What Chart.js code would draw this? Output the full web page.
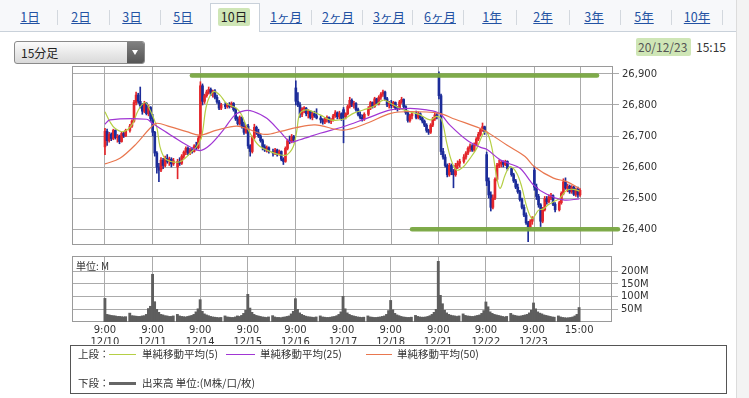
<!DOCTYPE html>
<html><head><meta charset="utf-8">
<script src="https://cdn.jsdelivr.net/npm/chart.js@4.4.1/dist/chart.umd.min.js"></script>
<style>
body{margin:0;width:749px;height:398px;position:relative;overflow:hidden;background:#fff;font-family:"Noto Sans CJK JP","DejaVu Sans",sans-serif;}
#tabbar{position:absolute;left:0;top:0;width:736px;height:31px;background:#f7f8fa;border-bottom:1px solid #c9d1da;}
.tab{position:absolute;top:9px;font-size:12.5px;line-height:16px;color:#2352a3;text-decoration:underline;transform:translateX(-50%);white-space:nowrap;}
.sep{position:absolute;top:10px;width:1px;height:15px;background:#d3d8de;}
#sel{position:absolute;left:210px;top:3px;width:50px;height:29px;background:#fff;border:1px solid #c9d1da;border-bottom:none;box-sizing:border-box;}
#selhl{position:absolute;left:218px;top:8px;width:32px;height:18px;background:#cfe6b6;border-radius:2px;}
#rightstrip{position:absolute;left:736px;top:0;width:13px;height:398px;background:#f3f3f3;border-left:1px solid #dcdcdc;}
#dd{position:absolute;left:14px;top:41px;width:131px;height:23px;box-sizing:border-box;border:1px solid #8a8a8a;border-radius:3px;background:linear-gradient(#fbfbfb,#d9d9d9);}
#dd span{position:absolute;left:6px;top:2px;font-size:12px;color:#222;}
#ddbtn{position:absolute;right:0;top:0;width:17px;height:21px;background:linear-gradient(#808080,#555);border-radius:0 2px 2px 0;}
#ddbtn:after{content:'';position:absolute;left:5px;top:8px;border-left:3.5px solid transparent;border-right:3.5px solid transparent;border-top:5px solid #fff;}
#datehl{position:absolute;left:636px;top:38px;width:55px;height:18px;background:#cfe6b6;border-radius:2px;}
.txt{position:absolute;white-space:nowrap;}
#legend{position:absolute;left:70px;top:345px;width:657px;height:49px;border:1px solid #555;box-sizing:border-box;}
.lg{position:absolute;font-size:10.5px;line-height:14px;color:#333;white-space:nowrap;}
.ln{position:absolute;height:1px;}
canvas{position:absolute;left:0;top:0;}
</style></head><body>
<div id="tabbar"></div>
<div id="sel"></div><div id="selhl"></div>
<span class="tab" style="left:30px">1日</span>
<span class="tab" style="left:81px">2日</span>
<span class="tab" style="left:132px">3日</span>
<span class="tab" style="left:183px">5日</span>
<span class="tab" style="left:234px;color:#222;text-decoration:none">10日</span>
<span class="tab" style="left:286px">1ヶ月</span>
<span class="tab" style="left:338px">2ヶ月</span>
<span class="tab" style="left:389px">3ヶ月</span>
<span class="tab" style="left:440px">6ヶ月</span>
<span class="tab" style="left:492px">1年</span>
<span class="tab" style="left:543px">2年</span>
<span class="tab" style="left:594px">3年</span>
<span class="tab" style="left:644px">5年</span>
<span class="tab" style="left:697px">10年</span>
<div class="sep" style="left:57px"></div><div class="sep" style="left:109px"></div><div class="sep" style="left:160px"></div>
<div class="sep" style="left:311px"></div><div class="sep" style="left:362px"></div><div class="sep" style="left:412px"></div>
<div class="sep" style="left:463px"></div><div class="sep" style="left:516px"></div><div class="sep" style="left:569px"></div>
<div class="sep" style="left:620px"></div><div class="sep" style="left:671px"></div><div class="sep" style="left:722px"></div>
<div id="rightstrip"></div>
<div id="dd"><span>15分足</span><div id="ddbtn"></div></div>
<div id="datehl"></div>
<span class="txt" style="left:638px;top:38px;font-size:12px;color:#555">20/12/23</span>
<span class="txt" style="left:696px;top:38px;font-size:12px;color:#333">15:15</span>
<canvas id="price" width="749" height="398"></canvas>
<canvas id="vol" width="749" height="398"></canvas>
<span class="txt" style="left:76px;top:258px;font-size:10px;color:#333">単位: M</span>
<div id="legend"></div>
<span class="lg" style="left:78px;top:347px">上段：</span>
<div class="ln" style="left:109px;top:354px;width:27px;background:#b5cf45"></div>
<span class="lg" style="left:142px;top:347px">単純移動平均(5)</span>
<div class="ln" style="left:226px;top:354px;width:29px;background:#a136d4"></div>
<span class="lg" style="left:260px;top:347px">単純移動平均(25)</span>
<div class="ln" style="left:366px;top:354px;width:26px;background:#e9774f"></div>
<span class="lg" style="left:397px;top:347px">単純移動平均(50)</span>
<span class="lg" style="left:78px;top:376px">下段：</span>
<div class="ln" style="left:109px;top:382px;width:27px;height:3px;background:#666"></div>
<span class="lg" style="left:142px;top:376px">出来高 単位:(M株/口/枚)</span>
<script>
// ---------- data ----------
const days = ['12/10','12/11','12/14','12/15','12/16','12/17','12/18','12/21','12/22','12/23'];
const sessionTimes = ['9:00','9:15','9:30','9:45','10:00','10:15','10:30','10:45','11:00','11:15','11:30',
  '12:30','12:45','13:00','13:15','13:30','13:45','14:00','14:15','14:30','14:45','15:00'];
const lastTickTime = '15:00';

// [open, high, low, close] per 15-minute bar
const ohlc1210 = [[26665,26725,26640,26715],[26715,26722,26670,26685],[26685,26712,26680,26705],[26705,26710,26685,26692],[26692,26722,26688,26718],[26718,26720,26690,26695],[26695,26705,26680,26700],[26700,26703,26675,26682],[26682,26712,26680,26708],[26708,26715,26695,26700],[26700,26722,26698,26718],
  [26718,26738,26712,26732],[26732,26752,26728,26748],[26748,26815,26745,26808],[26808,26842,26800,26832],[26832,26838,26805,26812],[26812,26858,26790,26798],[26798,26805,26770,26780],[26780,26812,26775,26805],[26805,26808,26768,26772],[26772,26800,26765,26792],[26792,26795,26748,26756]];
const ohlc1211 = [[26756,26770,26700,26712],[26712,26715,26635,26645],[26645,26650,26580,26600],[26600,26612,26553,26590],[26590,26630,26585,26622],[26622,26628,26595,26605],[26605,26635,26600,26628],[26628,26640,26612,26618],[26618,26632,26605,26625],[26625,26630,26600,26610],[26610,26628,26605,26620],
  [26600,26625,26562,26618],[26618,26630,26605,26612],[26612,26640,26608,26635],[26635,26652,26628,26648],[26648,26665,26640,26660],[26660,26665,26638,26645],[26645,26660,26640,26655],[26655,26662,26645,26650],[26650,26672,26648,26668],[26668,26680,26655,26662],[26662,26700,26658,26692]];
const ohlc1214 = [[26695,26875,26690,26862],[26862,26868,26800,26812],[26812,26835,26805,26830],[26830,26848,26825,26842],[26842,26858,26835,26850],[26850,26855,26830,26838],[26838,26848,26825,26845],[26845,26850,26820,26825],[26825,26832,26805,26810],[26810,26815,26785,26790],[26790,26805,26785,26800],
  [26800,26808,26788,26795],[26795,26805,26790,26802],[26802,26808,26790,26795],[26795,26810,26792,26805],[26805,26808,26780,26785],[26785,26790,26750,26755],[26755,26762,26735,26740],[26740,26765,26735,26760],[26760,26762,26725,26730],[26730,26745,26705,26712],[26712,26735,26708,26732]];
const ohlc1215 = [[26732,26738,26660,26668],[26668,26672,26635,26650],[26650,26700,26645,26695],[26695,26738,26690,26728],[26728,26732,26705,26710],[26710,26722,26695,26700],[26700,26705,26680,26685],[26685,26690,26655,26665],[26665,26672,26650,26655],[26655,26668,26648,26662],[26662,26665,26645,26650],
  [26650,26658,26635,26645],[26645,26660,26640,26655],[26655,26658,26635,26642],[26642,26655,26638,26650],[26650,26652,26620,26625],[26625,26630,26608,26618],[26618,26665,26615,26660],[26660,26690,26655,26685],[26685,26700,26675,26682],[26682,26705,26678,26698],[26698,26702,26680,26687]];
const ohlc1216 = [[26855,26878,26800,26812],[26812,26840,26795,26800],[26800,26808,26760,26770],[26770,26792,26762,26788],[26788,26795,26775,26790],[26790,26792,26765,26772],[26772,26785,26758,26780],[26780,26782,26755,26760],[26760,26778,26752,26772],[26772,26780,26760,26765],[26765,26788,26755,26758],
  [26758,26765,26742,26752],[26752,26756,26738,26745],[26745,26760,26740,26755],[26755,26765,26745,26760],[26760,26762,26742,26748],[26748,26756,26740,26752],[26752,26770,26748,26765],[26765,26782,26760,26775],[26775,26778,26755,26762],[26762,26780,26755,26772],[26772,26775,26750,26757]];
const ohlc1217 = [[26785,26792,26678,26762],[26762,26775,26755,26772],[26772,26800,26768,26795],[26795,26825,26790,26815],[26815,26820,26795,26800],[26800,26812,26790,26805],[26805,26808,26780,26785],[26785,26790,26765,26770],[26770,26778,26755,26760],[26760,26768,26748,26755],[26755,26775,26750,26770],
  [26770,26795,26765,26790],[26790,26812,26785,26808],[26808,26810,26790,26795],[26795,26825,26792,26820],[26820,26822,26800,26805],[26805,26830,26800,26825],[26825,26840,26818,26835],[26835,26848,26828,26842],[26842,26845,26815,26820],[26820,26825,26795,26800],[26800,26812,26790,26806]];
const ohlc1218 = [[26806,26815,26790,26798],[26798,26812,26792,26808],[26808,26810,26785,26790],[26790,26795,26780,26788],[26788,26815,26785,26810],[26810,26825,26805,26818],[26818,26820,26790,26795],[26795,26798,26770,26775],[26775,26780,26745,26750],[26750,26770,26745,26765],[26765,26778,26755,26772],
  [26772,26780,26755,26760],[26760,26778,26755,26772],[26772,26775,26752,26758],[26758,26762,26742,26748],[26748,26752,26730,26735],[26735,26740,26712,26718],[26718,26722,26705,26712],[26712,26740,26708,26735],[26735,26760,26730,26755],[26755,26775,26750,26768],[26768,26772,26755,26763]];
const ohlc1221 = [[26895,26907,26820,26830],[26830,26835,26640,26650],[26650,26660,26625,26632],[26632,26640,26600,26605],[26605,26610,26568,26575],[26575,26612,26570,26605],[26605,26610,26575,26585],[26585,26592,26533,26575],[26575,26612,26570,26605],[26605,26620,26595,26612],[26612,26625,26600,26618],
  [26618,26640,26612,26632],[26632,26650,26625,26645],[26645,26665,26640,26660],[26660,26675,26650,26668],[26668,26672,26650,26655],[26655,26678,26650,26672],[26672,26695,26668,26690],[26690,26712,26685,26705],[26705,26725,26700,26720],[26720,26742,26715,26730],[26730,26732,26705,26714]];
const ohlc1222 = [[26640,26648,26540,26555],[26555,26565,26500,26510],[26510,26520,26458,26470],[26470,26510,26465,26500],[26500,26565,26495,26560],[26560,26612,26555,26605],[26605,26622,26598,26610],[26610,26620,26600,26615],[26615,26620,26600,26608],[26608,26622,26604,26618],[26618,26620,26590,26595],
  [26595,26598,26570,26575],[26575,26580,26550,26555],[26555,26560,26530,26535],[26535,26545,26515,26520],[26520,26525,26490,26495],[26495,26500,26465,26470],[26470,26478,26440,26445],[26445,26452,26415,26420],[26420,26425,26359,26405],[26405,26430,26398,26425],[26425,26440,26415,26436]];
const ohlc1223 = [[26590,26602,26525,26535],[26535,26545,26495,26505],[26505,26512,26470,26478],[26478,26482,26408,26425],[26425,26470,26420,26462],[26462,26505,26458,26498],[26498,26505,26480,26488],[26488,26510,26484,26502],[26502,26515,26495,26508],[26508,26510,26475,26480],[26480,26485,26455,26462],
  [26462,26490,26458,26485],[26485,26520,26480,26515],[26515,26562,26510,26552],[26552,26565,26528,26532],[26532,26545,26520,26538],[26538,26542,26515,26520],[26520,26540,26515,26535],[26535,26538,26508,26512],[26512,26532,26505,26528],[26528,26535,26502,26510],[26510,26530,26505,26525]];

// volume (millions) per bar
const vol1210 = [93,30,28,26,25,24,22,22,21,20,21,35,25,24,23,22,22,24,25,30,53,62];
const vol1211 = [188,80,50,38,30,28,25,24,22,22,24,30,24,22,21,20,22,24,26,30,40,52];
const vol1214 = [88,42,32,28,25,22,20,19,18,17,18,24,20,19,18,18,20,24,22,26,34,46];
const vol1215 = [109,55,38,30,26,24,22,20,19,18,20,25,20,18,18,17,19,20,22,24,32,42];
const vol1216 = [92,50,36,30,26,23,21,20,19,18,20,24,20,19,18,18,19,21,22,25,30,40];
const vol1217 = [101,52,36,30,26,24,22,20,19,18,19,24,20,19,18,18,19,20,22,24,30,45];
const vol1218 = [85,48,34,28,25,22,20,19,18,18,19,26,22,20,19,19,20,22,25,30,38,50];
const vol1221 = [239,105,72,46,36,30,27,25,24,22,24,32,26,24,23,22,22,24,26,28,34,45];
const vol1222 = [79,60,40,34,30,28,26,24,22,20,22,34,28,26,24,23,24,26,28,30,36,46];
const vol1223 = [75,52,40,35,32,28,26,24,22,20,19,24,20,18,17,16,17,18,20,24,30,57];

// moving averages (position in bar slots, value)
const ma5Slot = [0,2.4,4.8,8.8,12.9,16.1,19.3,21.7,24.9,26.5,28.9,32.2,36.2,38.6,41.8,44.2,46.6,49.0,52.2,55.4,58.6,63.5,65.9,68.3,71.5,74.7,79.6,84.4,87.6,90.8,92.4,94.0,97.3,103.7,108.5,114.9,119.7,124.5,129.4,134.2,137.8,142.2,147.1,151.9,156.7,159.9,162.3,164.8,167.2,169.6,172.8,176.0,179.2,182.4,184.0,186.4,188.8,190.5,192.9,195.3,198.5,200.9,203.3,205.7,207.3,208.9,211.3,213.7,216.9,219.4,222.6,225.8,228.7];
const ma5 = [26778,26746,26725,26714,26735,26784,26808,26784,26730,26666,26628,26617,26617,26628,26650,26666,26698,26800,26843,26832,26805,26789,26768,26730,26692,26666,26650,26639,26639,26666,26714,26773,26784,26768,26752,26754,26773,26784,26795,26816,26805,26789,26778,26768,26752,26763,26752,26676,26617,26590,26601,26628,26660,26709,26714,26666,26569,26531,26574,26601,26580,26536,26472,26434,26444,26460,26465,26478,26490,26500,26525,26528,26522];
const ma25Slot = [0,2.4,20.1,22.5,26.5,32.9,39.4,45.8,50.6,57.0,62.7,67.5,71.5,78.0,84.4,89.2,94.0,103.7,114.9,126.2,137.8,147.1,155.1,161.2,166.3,174.4,180.8,184.0,190.5,194.5,200.1,206.9,213.0,221.0,228.7];
const ma25 = [26738,26752,26754,26743,26725,26698,26671,26653,26671,26719,26768,26782,26779,26757,26714,26682,26688,26709,26730,26757,26784,26789,26784,26773,26735,26687,26664,26657,26623,26612,26596,26540,26512,26494,26497];
const ma50Slot = [0,7.2,15.3,21.7,24.9,31.3,39.4,45.8,53.9,63.5,69.1,77.1,85.2,92.1,101.3,114.9,126.2,137.8,147.1,161.2,168.8,180.8,184.0,193.7,202.5,207.0,216.2,222.6,228.7];
const ma50 = [26610,26628,26676,26725,26741,26730,26714,26703,26719,26732,26722,26705,26716,26727,26736,26719,26741,26773,26779,26773,26754,26725,26714,26671,26634,26601,26564,26553,26531];

// hand-drawn support / resistance marks (slot range, level)
const resistSlots = [41.9, 237.2]; const resistLevel = 26895;
const supportSlots = [148, 247.3]; const supportLevel = 26399;

const priceTicks = [26400,26500,26600,26700,26800,26900];
const volTicks = [50,100,150,200];

// ---------- build ----------
const dailyOhlc = [ohlc1210,ohlc1211,ohlc1214,ohlc1215,ohlc1216,ohlc1217,ohlc1218,ohlc1221,ohlc1222,ohlc1223];
const dailyVol = [vol1210,vol1211,vol1214,vol1215,vol1216,vol1217,vol1218,vol1221,vol1222,vol1223];
const SLOTS_PER_DAY = 23;
function slotOf(d, t){
  const [h,m] = t.split(':').map(Number); const mins = h*60+m;
  const inDay = mins <= 690 ? (mins-540)/15 : 12 + (mins-750)/15;
  return d*SLOTS_PER_DAY + inDay;
}
const candles = [], volPts = [];
dailyOhlc.forEach((arr,d)=>arr.forEach((b,i)=>{
  const x = slotOf(d, sessionTimes[i]);
  candles.push({x, o:b[0], h:b[1], l:b[2], c:b[3]});
  volPts.push({x, y: dailyVol[d][i]});
}));
const tickSlots = days.map((_,d)=>slotOf(d,'9:00')).concat([slotOf(days.length-1,lastTickTime)]);
const tickText = {};
days.forEach((dd,d)=>{ tickText[slotOf(d,'9:00')] = ['9:00', dd]; });
tickText[slotOf(days.length-1,lastTickTime)] = lastTickTime;

const UP='#e3262b', DOWN='#1c2c99';
const colors = candles.map(k => k.c >= k.o ? UP : DOWN);
const xMin = -15.9, xMax = 244.9;
const gridColor = '#ababab';
Chart.defaults.font.family = 'DejaVu Sans';
Chart.defaults.color = '#333';

const frame = { id:'frame', beforeDatasetsDraw(c){ const {ctx, chartArea:a} = c; ctx.save(); ctx.strokeStyle='#9a9a9a'; ctx.lineWidth=1;
  ctx.strokeRect(Math.round(a.left)+0.5, Math.round(a.top)+0.5, Math.round(a.right-a.left)-1, Math.round(a.bottom-a.top)-1); ctx.restore(); } };

const pts = (xs, ys) => xs.map((x,i)=>({x, y: ys[i]}));
const lineDs = (xs, ys, color) => ({type:'line', data: pts(xs,ys), borderColor: color, borderWidth: 1.2, pointRadius: 0, tension: 0.35, order: 1});

new Chart(document.getElementById('price'), {
  type:'bar',
  data:{ datasets:[
    {type:'bar', data: candles.map(k=>({x:k.x, y:[k.l,k.h]})), backgroundColor: colors, barThickness: 1, grouped:false, order: 4},
    {type:'bar', data: candles.map(k=>({x:k.x, y:[k.o,k.c]})), backgroundColor: colors, barThickness: 2, minBarLength: 1, grouped:false, order: 3},
    lineDs(ma50Slot, ma50, '#e9774f'),
    lineDs(ma25Slot, ma25, '#a136d4'),
    lineDs(ma5Slot, ma5, '#b5cf45'),
    {type:'line', data: pts(resistSlots, [resistLevel,resistLevel]), borderColor:'rgba(120,166,64,0.95)', borderWidth: 4.5, borderCapStyle:'round', pointRadius:0, order: 0, clip:false},
    {type:'line', data: pts(supportSlots, [supportLevel,supportLevel]), borderColor:'rgba(120,166,64,0.95)', borderWidth: 4.5, borderCapStyle:'round', pointRadius:0, order: 0, clip:false}
  ]},
  options:{
    responsive:false, animation:false, events:[], devicePixelRatio:1,
    layout:{padding:{left:72, top:66, right:76, bottom:143}},
    plugins:{legend:{display:false}, tooltip:{enabled:false}},
    scales:{
      x:{type:'linear', min:xMin, max:xMax, offset:false,
         afterBuildTicks: s => { s.ticks = tickSlots.map(v=>({value:v})); },
         afterFit: s => { s.height = 10; },
         ticks:{display:false}, grid:{color:gridColor, drawTicks:false, offset:false}, border:{display:false}},
      y:{type:'linear', position:'right', min:26348.4, max:26925.8,
         afterBuildTicks: s => { s.ticks = priceTicks.map(v=>({value:v})); },
         afterFit: s => { s.width = 60; },
         ticks:{font:{size:10}, color:'#333', padding:3, callback: v => v.toLocaleString('en-US')},
         grid:{color:gridColor, tickLength:6, drawTicks:true}, border:{display:false}}
    }
  },
  plugins:[frame]
});

new Chart(document.getElementById('vol'), {
  type:'bar',
  data:{ datasets:[
    {data: volPts, backgroundColor:'#5e5e5e', barThickness: 2.2, grouped:false}
  ]},
  options:{
    responsive:false, animation:false, events:[], devicePixelRatio:1,
    layout:{padding:{left:72, top:256, right:77, bottom:54}},
    plugins:{legend:{display:false}, tooltip:{enabled:false}},
    scales:{
      x:{type:'linear', min:xMin, max:xMax, offset:false,
         afterBuildTicks: s => { s.ticks = tickSlots.map(v=>({value:v})); },
         afterFit: s => { s.height = 22; },
         ticks:{autoSkip:false, maxRotation:0, font:{size:10, lineHeight:1.2}, color:'#333', padding:2, callback: v => tickText[v] ?? ''},
         grid:{color:gridColor, drawTicks:false, offset:false}, border:{display:false}},
      y:{type:'linear', position:'right', min:0, max:260,
         afterBuildTicks: s => { s.ticks = volTicks.map(v=>({value:v})); },
         afterFit: s => { s.width = 60; },
         ticks:{font:{size:10}, color:'#333', padding:3, callback: v => v + 'M'},
         grid:{color:gridColor, tickLength:6, drawTicks:true}, border:{display:false}}
    }
  },
  plugins:[frame]
});
</script>
</body></html>
